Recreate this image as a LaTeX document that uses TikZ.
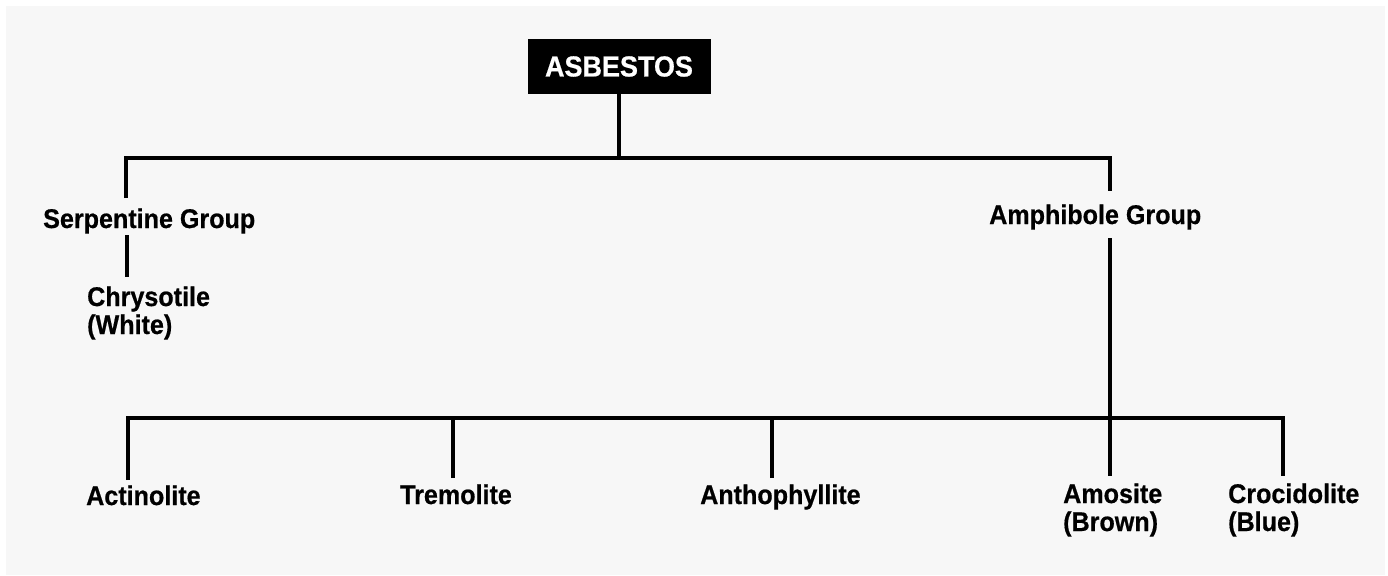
\documentclass[tikz,border=0pt]{standalone}
\usepackage{fontspec}
\setmainfont{Liberation Sans}[BoldFeatures={FakeStretch=0.93,FakeBold=0.6}]
\begin{document}
\begin{tikzpicture}[x=1pt,y=-1pt,
  lbl/.style={font=\bfseries\fontsize{27}{28}\selectfont, inner sep=0pt, anchor=base west, align=left},
  ln/.style={line width=3.4pt, line cap=butt, line join=miter}]
\useasboundingbox (0,0) rectangle (1388,575);
\fill[white] (0,0) rectangle (1388,575);
\fill[black!3] (6,6) rectangle (1385,575);
% nodes
\node[fill=black, text=white, font=\bfseries\fontsize{29}{30}\selectfont, minimum width=183pt, minimum height=55pt, inner sep=0pt] (asb) at (619,66.5) {ASBESTOS};
\node[lbl] (serp) at (43,228) {Serpentine Group};
\node[lbl] (chry) at (87,334) {Chrysotile\\(White)};
\node[lbl] (amph) at (989,224) {Amphibole Group};
\node[lbl] (act) at (86,505) {Actinolite};
\node[lbl] (trem) at (400,504) {Tremolite};
\node[lbl] (anth) at (700,504) {Anthophyllite};
\node[lbl] (amos) at (1063,531) {Amosite\\(Brown)};
\node[lbl] (croc) at (1228,531) {Crocidolite\\(Blue)};
% connector end points
\coordinate (bar1) at (0,158);
\coordinate (bar2) at (0,418);
\coordinate (serpT) at (126,198);
\coordinate (serpB) at (127,235);
\coordinate (chryT) at (127,277);
\coordinate (amphT) at (1110,191);
\coordinate (amphB) at (1110,238);
\coordinate (amosT) at (1110,476);
\coordinate (actT) at (128,480);
\coordinate (tremT) at (453,478);
\coordinate (anthT) at (772,478);
\coordinate (crocT) at (1283,476);
% connectors
\draw[ln] (asb.south) -- (asb.south |- bar1);
\draw[ln] (serpT) |- (amphT |- bar1) -- (amphT);
\draw[ln] (serpB) -- (chryT);
\draw[ln] (amphB) -- (amosT);
\draw[ln] (actT) |- (crocT |- bar2) -- (crocT);
\draw[ln] (tremT) -- (tremT |- bar2);
\draw[ln] (anthT) -- (anthT |- bar2);
\end{tikzpicture}
\end{document}
